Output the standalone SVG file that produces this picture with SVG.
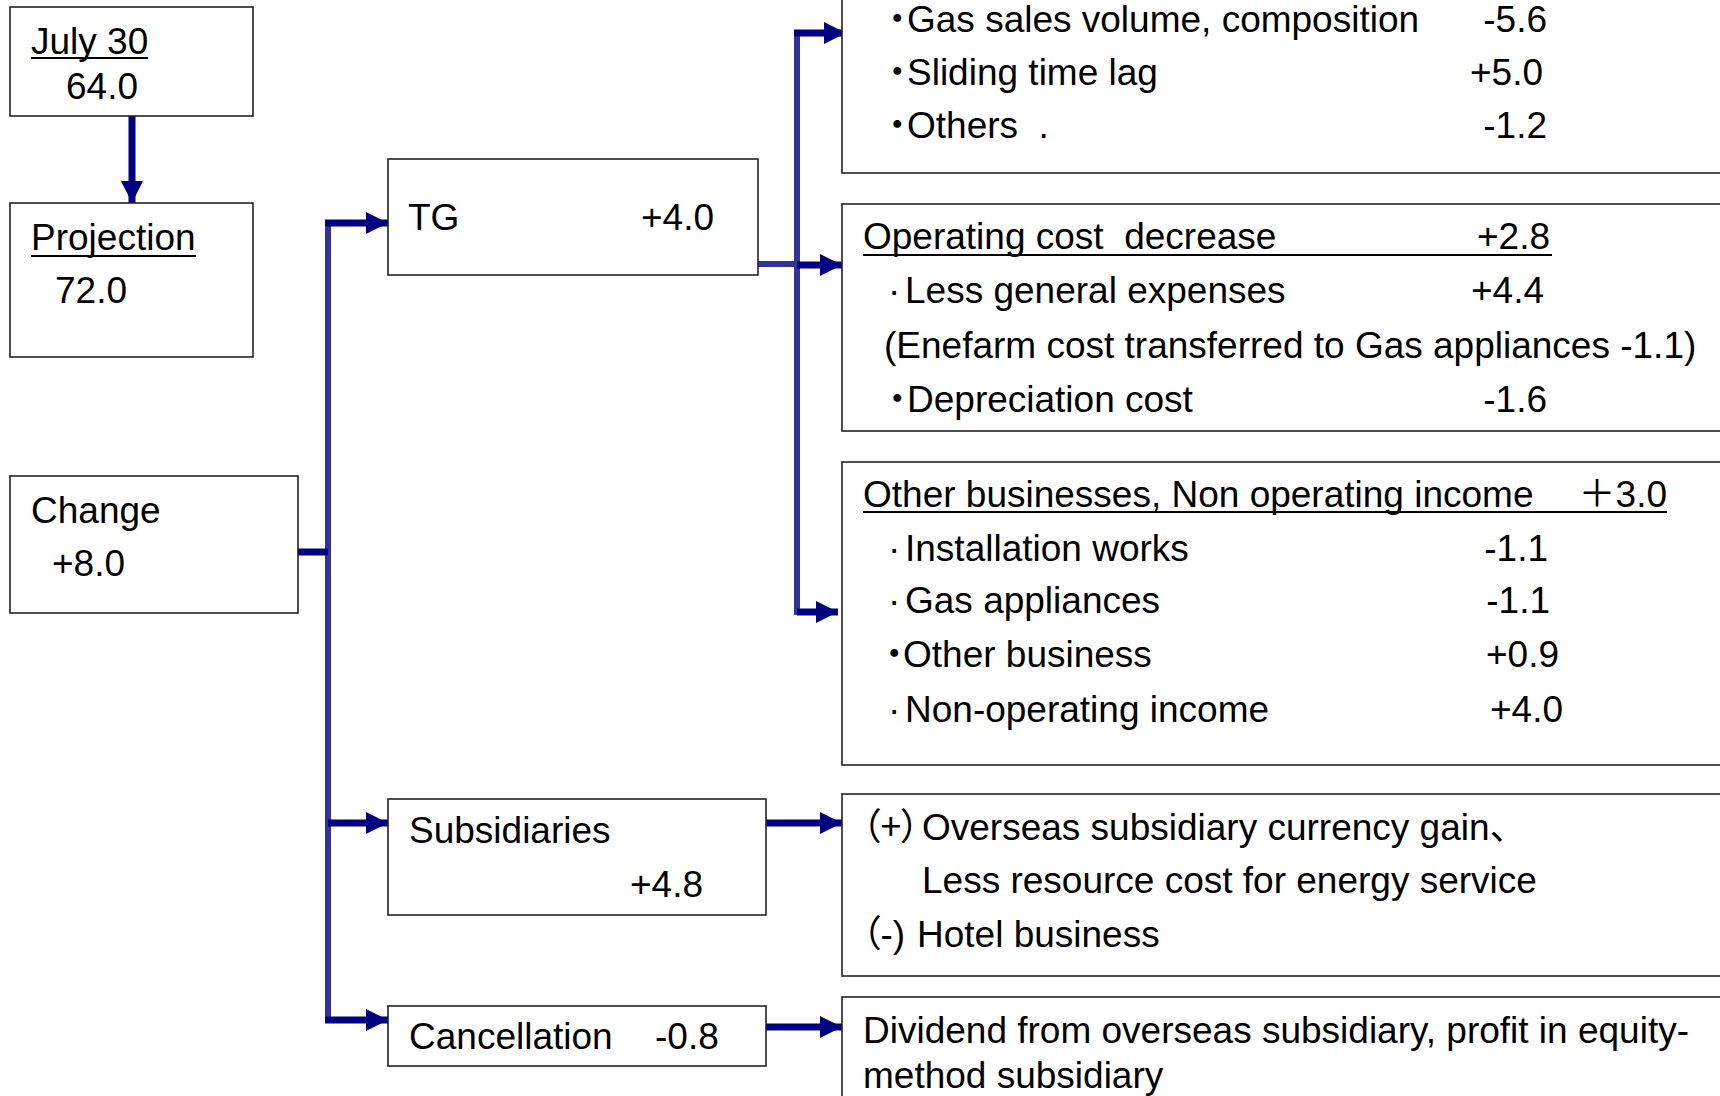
<svg xmlns="http://www.w3.org/2000/svg" width="1720" height="1096" viewBox="0 0 1720 1096">
<style>
.box{fill:#fff;stroke:#222;stroke-width:1.6}
.t{font-family:"Liberation Sans",Arial,"Noto Sans CJK JP",sans-serif;font-size:37px;fill:#000}
.cj{font-family:"Noto Sans CJK JP","Liberation Sans",sans-serif}
.pa{font-family:"Noto Sans CJK JP","Liberation Sans",sans-serif;font-feature-settings:"palt" 1}
.e{text-anchor:end}
.ul{stroke:#000;stroke-width:2}
.arr{stroke:#000080;stroke-width:7;fill:none}
.bus{stroke:#333399;stroke-width:6;fill:none}
</style>
<defs>
<marker id="ah" markerUnits="userSpaceOnUse" markerWidth="22" markerHeight="22" refX="22" refY="11" orient="auto" viewBox="0 0 22 22">
<path d="M0,0 L22,11 L0,22 z" fill="#000080"/>
</marker>
</defs>
<rect width="1720" height="1096" fill="#fff"/>

<g id="connectors">
<line class="bus" x1="328" y1="220" x2="328" y2="1023"/>
<line class="bus" x1="797" y1="30" x2="797" y2="615"/>
<line class="bus" x1="758" y1="264" x2="797" y2="264"/>
<line class="arr" x1="132" y1="116" x2="132" y2="203" marker-end="url(#ah)"/>
<line class="arr" x1="298" y1="552" x2="328" y2="552"/>
<line class="arr" x1="325" y1="223" x2="388" y2="223" marker-end="url(#ah)"/>
<line class="arr" x1="328" y1="823" x2="388" y2="823" marker-end="url(#ah)"/>
<line class="arr" x1="325" y1="1020" x2="388" y2="1020" marker-end="url(#ah)"/>
<line class="arr" x1="794" y1="33" x2="846" y2="33" marker-end="url(#ah)"/>
<line class="arr" x1="797" y1="265" x2="842" y2="265" marker-end="url(#ah)"/>
<line class="arr" x1="797" y1="612" x2="838" y2="612" marker-end="url(#ah)"/>
<line class="arr" x1="766" y1="823" x2="842" y2="823" marker-end="url(#ah)"/>
<line class="arr" x1="766" y1="1027" x2="842" y2="1027" marker-end="url(#ah)"/>
</g>

<g id="july30">
<rect class="box" x="10" y="7" width="243" height="109"/>
<text class="t" x="31" y="54">July 30</text>
<line class="ul" x1="31" y1="58" x2="148" y2="58"/>
<text class="t" x="66" y="99">64.0</text>
</g>

<g id="projection">
<rect class="box" x="10" y="203" width="243" height="154"/>
<text class="t" x="31" y="250">Projection</text>
<line class="ul" x1="31" y1="256" x2="196" y2="256"/>
<text class="t" x="55" y="303">72.0</text>
</g>

<g id="change">
<rect class="box" x="10" y="476" width="288" height="137"/>
<text class="t" x="31" y="523">Change</text>
<text class="t" x="52" y="576">+8.0</text>
</g>

<g id="tg">
<rect class="box" x="388" y="159" width="370" height="116"/>
<text class="t" x="408" y="230">TG</text>
<text class="t" x="641" y="230">+4.0</text>
</g>

<g id="subsidiaries">
<rect class="box" x="388" y="799" width="378" height="116"/>
<text class="t" x="409" y="843">Subsidiaries</text>
<text class="t" x="630" y="897">+4.8</text>
</g>

<g id="cancellation">
<rect class="box" x="388" y="1006" width="378" height="60"/>
<text class="t" x="409" y="1049">Cancellation</text>
<text class="t" x="655" y="1049">-0.8</text>
</g>

<g id="gas-sales">
<rect class="box" x="842" y="-10" width="890" height="183"/>
<text class="t" y="32"><tspan class="pa" x="888">・</tspan><tspan x="907">Gas sales volume, composition</tspan></text>
<text class="t e" x="1547" y="32">-5.6</text>
<text class="t" y="85"><tspan class="pa" x="888">・</tspan><tspan x="907">Sliding time lag</tspan></text>
<text class="t e" x="1543" y="85">+5.0</text>
<text class="t" y="138" xml:space="preserve"><tspan class="pa" x="888">・</tspan><tspan x="907">Others  .</tspan></text>
<text class="t e" x="1547" y="138">-1.2</text>
</g>

<g id="operating-cost">
<rect class="box" x="842" y="204" width="890" height="227"/>
<text class="t" x="863" y="249" xml:space="preserve">Operating cost  decrease</text>
<text class="t e" x="1550" y="249">+2.8</text>
<line class="ul" x1="863" y1="255" x2="1552" y2="255"/>
<text class="t" y="303"><tspan x="888">·</tspan><tspan x="905">Less general expenses</tspan></text>
<text class="t e" x="1544" y="303">+4.4</text>
<text class="t" x="884" y="358">(Enefarm cost transferred to Gas appliances -1.1)</text>
<text class="t" y="412"><tspan class="pa" x="888">・</tspan><tspan x="907">Depreciation cost</tspan></text>
<text class="t e" x="1547" y="412">-1.6</text>
</g>

<g id="other-businesses">
<rect class="box" x="842" y="462" width="890" height="303"/>
<text class="t" x="863" y="507">Other businesses, Non operating income</text>
<text class="t e" x="1667" y="507"><tspan class="cj">＋</tspan>3.0</text>
<line class="ul" x1="863" y1="512" x2="1667" y2="512"/>
<text class="t" y="561"><tspan x="888">·</tspan><tspan x="905">Installation works</tspan></text>
<text class="t e" x="1548" y="561">-1.1</text>
<text class="t" y="613"><tspan x="888">·</tspan><tspan x="905">Gas appliances</tspan></text>
<text class="t e" x="1550" y="613">-1.1</text>
<text class="t" y="667"><tspan class="pa" x="885">・</tspan><tspan x="903">Other business</tspan></text>
<text class="t e" x="1559" y="667">+0.9</text>
<text class="t" y="722"><tspan x="888">·</tspan><tspan x="905">Non-operating income</tspan></text>
<text class="t e" x="1563" y="722">+4.0</text>
</g>

<g id="subsidiary-details">
<rect class="box" x="842" y="794" width="890" height="182"/>
<text class="t" y="840"><tspan class="pa" x="862">（+）</tspan><tspan x="922">Overseas subsidiary currency gain</tspan><tspan class="cj">、</tspan></text>
<text class="t" x="922" y="893">Less resource cost for energy service</text>
<text class="t" y="947"><tspan class="pa" x="862">（</tspan><tspan>-)</tspan><tspan x="917">Hotel business</tspan></text>
</g>

<g id="dividend">
<rect class="box" x="842" y="997" width="890" height="120"/>
<text class="t" x="863" y="1043">Dividend from overseas subsidiary, profit in equity-</text>
<text class="t" x="863" y="1088">method subsidiary</text>
</g>
</svg>
